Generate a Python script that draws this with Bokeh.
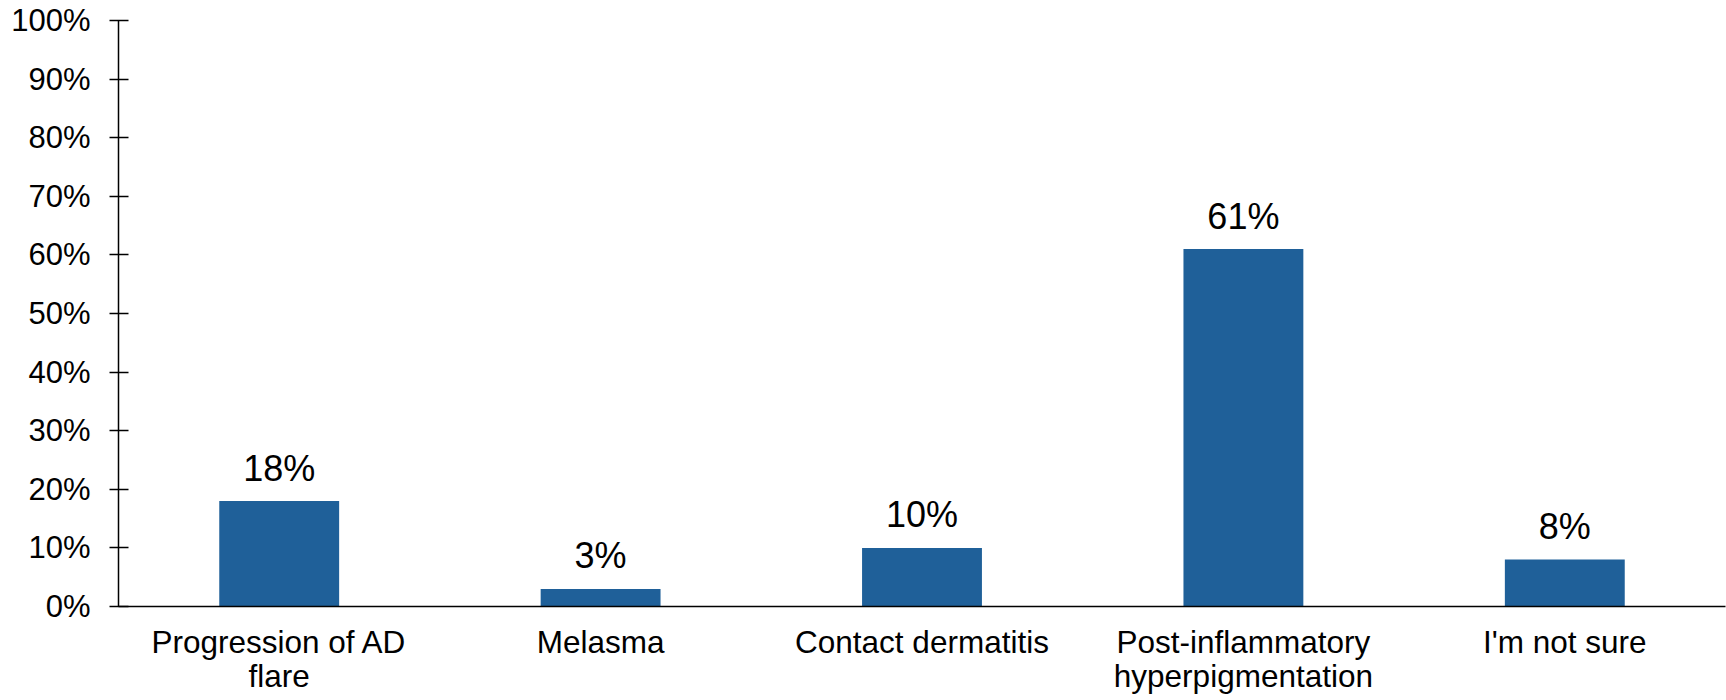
from bokeh.plotting import figure
from bokeh.models import ColumnDataSource, FactorRange, Range1d, FixedTicker
from bokeh.core.properties import value
from bokeh.embed import file_html
from bokeh.resources import INLINE

categories = ["Progression of AD\nflare", "Melasma", "Contact dermatitis",
              "Post-inflammatory\nhyperpigmentation", "I'm not sure"]
percentages = [18, 3, 10, 61, 8]
y_ticks = [0, 10, 20, 30, 40, 50, 60, 70, 80, 90, 100]

FONT = "Liberation Sans"
BAR_COLOR = "#1f6099"

source = ColumnDataSource(data=dict(
    cat=categories,
    pct=percentages,
    label=[f"{v}%" for v in percentages],
))

p = figure(
    width=1726, height=700,
    x_range=FactorRange(*categories, range_padding=0),
    y_range=Range1d(0, 100),
    output_backend="svg", toolbar_location=None,
    min_border_left=118, min_border_right=1,
    min_border_top=20, min_border_bottom=94,
    background_fill_color="white", border_fill_color="white",
    outline_line_color=None,
)

p.vbar(x="cat", top="pct", width=0.373, source=source,
       fill_color=BAR_COLOR, line_color=None)

# value labels above each bar
p.text(x="cat", y="pct", text="label", source=source,
       text_align="center", text_baseline="alphabetic", y_offset=-33,
       text_font=value(FONT), text_font_size="36px", text_color="black")

p.xgrid.visible = False
p.ygrid.visible = False

# y axis: percentage ticks crossing the axis line
yax = p.yaxis[0]
yax.ticker = FixedTicker(ticks=y_ticks)
yax.major_label_overrides = {t: f"{t}%" for t in y_ticks}
yax.major_tick_out = 9
yax.major_tick_in = 10
yax.minor_tick_line_color = None
yax.axis_line_color = "black"
yax.axis_line_width = 1.5
yax.major_tick_line_color = "black"
yax.major_tick_line_width = 1.5
yax.major_label_standoff = 19
yax.major_label_text_font = FONT
yax.major_label_text_font_size = "31px"
yax.major_label_text_color = "black"

# x axis: wrapped category names, no ticks
xax = p.xaxis[0]
xax.major_tick_line_color = None
xax.minor_tick_line_color = None
xax.axis_line_color = "black"
xax.axis_line_width = 1.5
xax.major_label_standoff = 11
xax.major_label_text_font = FONT
xax.major_label_text_font_size = "31.5px"
xax.major_label_text_color = "black"
xax.major_label_text_line_height = 0.97
xax.major_label_orientation = "horizontal"

open("out.html", "w").write(file_html(p, INLINE))
